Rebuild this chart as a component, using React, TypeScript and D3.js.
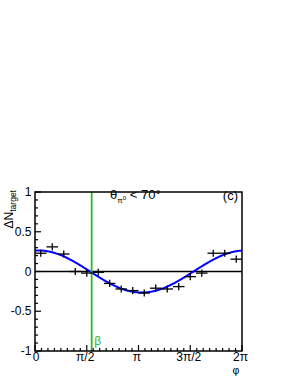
import React, { useEffect, useRef } from "react";
import * as d3 from "d3";

// bin centres in degrees (18 bins of 20 deg)
const phiDeg = [10, 30, 50, 70, 90, 110, 130, 150, 170, 190, 210, 230, 250, 270, 290, 310, 330, 350];
const dN = [0.23, 0.31, 0.22, 0.0, -0.02, -0.01, -0.15, -0.22, -0.24, -0.27, -0.21, -0.22, -0.19, -0.065, -0.02, 0.23, 0.23, 0.155];
const dNerr = [0.045, 0.045, 0.045, 0.045, 0.045, 0.045, 0.045, 0.045, 0.045, 0.045, 0.045, 0.045, 0.045, 0.045, 0.045, 0.045, 0.045, 0.045];

// fit A*cos(phi - d)
const fitAmp = 0.265;
const fitPhase = 0.1;
const betaAngle = 1.72;

const xTickLabels = ["0", "\u03c0/2", "\u03c0", "3\u03c0/2", "2\u03c0"];
const yTickValues = [-1, -0.5, 0, 0.5, 1];
const yTickLabels = ["-1", "-0.5", "0", "0.5", "1"];

const App: React.FC = () => {
  const svgRef = useRef<SVGSVGElement>(null);

  useEffect(() => {
    if (!svgRef.current) return;
    const width = 291;
    const height = 376;
    const frame = { left: 35, right: 242, top: 192, bottom: 351 };
    const font = "Liberation Sans, Arial, sans-serif";

    const svg = d3.select(svgRef.current).attr("width", width).attr("height", height);
    svg.selectAll("*").remove();

    const x = d3.scaleLinear().domain([0, 2 * Math.PI]).range([frame.left, frame.right]);
    const y = d3.scaleLinear().domain([-1, 1]).range([frame.bottom, frame.top]);

    // zero line
    svg.append("line")
      .attr("x1", frame.left).attr("x2", frame.right)
      .attr("y1", y(0)).attr("y2", y(0))
      .attr("stroke", "#000").attr("stroke-width", 1.5);

    // fit curve
    const fitPts = d3.range(0, 2 * Math.PI + 0.001, 0.02).map((p) => [p, fitAmp * Math.cos(p - fitPhase)] as [number, number]);
    svg.append("path")
      .datum(fitPts)
      .attr("d", d3.line<[number, number]>().x((d) => x(d[0])).y((d) => y(d[1])))
      .attr("fill", "none").attr("stroke", "#0000ff").attr("stroke-width", 2);

    // beta line
    svg.append("line")
      .attr("x1", x(betaAngle)).attr("x2", x(betaAngle))
      .attr("y1", frame.top).attr("y2", frame.bottom)
      .attr("stroke", "#33b233").attr("stroke-width", 1.8);
    svg.append("text")
      .attr("x", x(betaAngle) + 2.5).attr("y", 345)
      .attr("font-family", font).attr("font-size", 12).attr("fill", "#33b233")
      .text("\u03b2");

    // data points with error bars
    const halfBin = Math.PI / 18;
    const g = svg.append("g").attr("stroke", "#000").attr("stroke-width", 1.3);
    phiDeg.forEach((deg, i) => {
      const p = (deg * Math.PI) / 180;
      g.append("line")
        .attr("x1", x(p - halfBin)).attr("x2", x(p + halfBin))
        .attr("y1", y(dN[i])).attr("y2", y(dN[i]));
      g.append("line")
        .attr("x1", x(p)).attr("x2", x(p))
        .attr("y1", y(dN[i] - dNerr[i])).attr("y2", y(dN[i] + dNerr[i]));
    });

    // frame
    svg.append("rect")
      .attr("x", frame.left).attr("y", frame.top)
      .attr("width", frame.right - frame.left).attr("height", frame.bottom - frame.top)
      .attr("fill", "none").attr("stroke", "#000").attr("stroke-width", 1.5);

    // x ticks
    const xMinor = d3.range(0, 33).map((k) => (k * Math.PI) / 16);
    svg.append("g").selectAll("line").data(xMinor).join("line")
      .attr("x1", (d) => x(d)).attr("x2", (d) => x(d))
      .attr("y1", frame.bottom)
      .attr("y2", (_, k) => frame.bottom - (k % 8 === 0 ? 6 : 3))
      .attr("stroke", "#000").attr("stroke-width", 1.2);
    svg.append("g").selectAll("text").data(xTickLabels).join("text")
      .attr("x", (_, k) => x((k * Math.PI) / 2) + (k === 0 ? 1 : -1.5))
      .attr("y", 361)
      .attr("text-anchor", "middle")
      .attr("font-family", font).attr("font-size", 12)
      .text((d) => d);
    svg.append("text")
      .attr("x", 236).attr("y", 374)
      .attr("text-anchor", "middle")
      .attr("font-family", font).attr("font-size", 10.5)
      .text("\u03c6");

    // y ticks
    const yMinor = d3.range(-10, 11).map((k) => k / 10);
    svg.append("g").selectAll("line").data(yMinor).join("line")
      .attr("x1", frame.left)
      .attr("x2", (_, k) => frame.left + (k % 5 === 0 ? 6 : 3))
      .attr("y1", (d) => y(d)).attr("y2", (d) => y(d))
      .attr("stroke", "#000").attr("stroke-width", 1.2);
    svg.append("g").selectAll("text").data(yTickValues).join("text")
      .attr("x", 31.5)
      .attr("y", (d) => y(d) + 4)
      .attr("text-anchor", "end")
      .attr("font-family", font).attr("font-size", 12)
      .text((_, k) => yTickLabels[k]);

    // y title
    const yt = svg.append("text")
      .attr("transform", "translate(13,190) rotate(-90)")
      .attr("text-anchor", "end")
      .attr("font-family", font).attr("font-size", 12);
    yt.append("tspan").text("\u0394N");
    yt.append("tspan").attr("font-size", 8.5).attr("dy", 3).text("target");

    // cut label
    const lab = svg.append("text")
      .attr("x", 110).attr("y", 199)
      .attr("font-family", font).attr("font-size", 13);
    lab.append("tspan").text("\u03b8");
    lab.append("tspan").attr("font-size", 8).attr("dy", 4).text("\u03c0");
    lab.append("tspan").attr("font-size", 6).attr("dy", -3).text("0");
    lab.append("tspan").attr("dy", -1).text(" < 70\u00b0");

    svg.append("text")
      .attr("x", 238).attr("y", 200)
      .attr("text-anchor", "end")
      .attr("font-family", font).attr("font-size", 13)
      .text("(c)");
  }, []);

  return (
    <svg
      ref={svgRef}
      style={{ position: "absolute", left: 0, top: 0, background: "#fff" }}
    ></svg>
  );
};

export default App;
